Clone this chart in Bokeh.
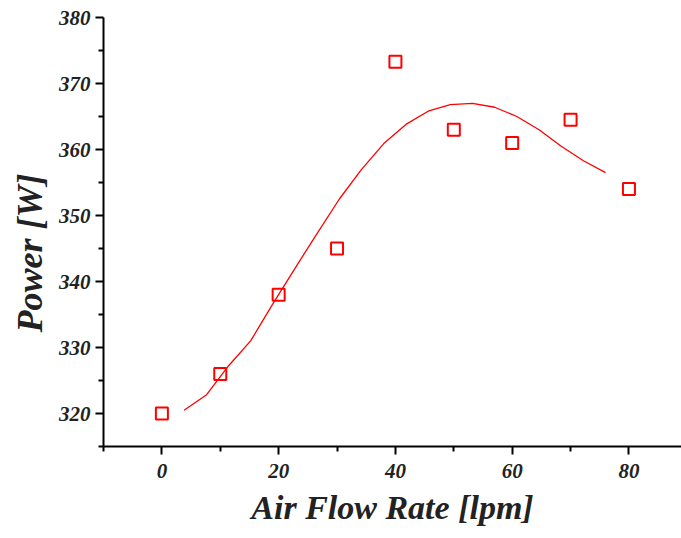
from bokeh.plotting import figure
from bokeh.models import FixedTicker, Range1d, Title
from bokeh.embed import file_html
from bokeh.resources import INLINE

# measured data
flow_rate = [0, 10, 20, 30, 40, 50, 60, 70, 80]
power = [320.0, 326.0, 338.0, 345.0, 373.3, 363.0, 361.0, 364.5, 354.0]

# fitted curve
fit_x = [3.8, 7.6, 11.4, 15.2, 19.0, 22.8, 26.6, 30.4, 34.2, 38.0,
         41.8, 45.6, 49.4, 53.2, 57.0, 60.8, 64.6, 68.4, 72.2, 76.0]
fit_y = [320.5, 322.8, 327.2, 331.0, 336.6, 342.0, 347.3, 352.5, 357.0, 360.9,
         363.8, 365.8, 366.8, 367.0, 366.4, 365.0, 363.0, 360.5, 358.3, 356.5]

x_major = [0, 20, 40, 60, 80]
x_minor = [-10, 10, 30, 50, 70]
y_major = [320, 330, 340, 350, 360, 370, 380]
y_minor = [315, 325, 335, 345, 355, 365, 375]

x_title = "Air Flow Rate [lpm]"
y_title = "Power [W]"

FONT = "Liberation Serif"

p = figure(width=681, height=538, output_backend="svg", toolbar_location=None,
           x_range=Range1d(-10, 89), y_range=Range1d(315, 380),
           min_border_left=103, min_border_right=0, min_border_top=17, min_border_bottom=92)
p.outline_line_color = None
p.grid.visible = False
p.background_fill_color = "white"
p.border_fill_color = "white"

p.line(fit_x, fit_y, line_color="#ff0000", line_width=1.3)
p.scatter(flow_rate, power, marker="square", size=12, fill_color=None,
          line_color="#ff0000", line_width=2)

for ax, maj, mnr in ((p.xaxis[0], x_major, x_minor), (p.yaxis[0], y_major, y_minor)):
    ax.ticker = FixedTicker(ticks=maj, minor_ticks=mnr)
    ax.axis_line_width = 2
    ax.axis_line_color = "black"
    ax.major_tick_line_width = 2
    ax.minor_tick_line_width = 2
    ax.major_tick_line_color = "black"
    ax.minor_tick_line_color = "black"
    ax.major_tick_out = 8
    ax.major_tick_in = 0
    ax.minor_tick_out = 5
    ax.minor_tick_in = 0
    ax.major_label_text_font = FONT
    ax.major_label_text_font_style = "bold italic"
    ax.major_label_text_font_size = "21px"
    ax.major_label_text_color = "#222222"

p.xaxis.major_label_standoff = 9
p.yaxis.major_label_standoff = 5

p.xaxis.axis_label = x_title
p.xaxis.axis_label_text_font = FONT
p.xaxis.axis_label_text_font_style = "bold italic"
p.xaxis.axis_label_text_font_size = "34px"
p.xaxis.axis_label_text_color = "#222222"
p.xaxis.axis_label_standoff = 8

yt = Title(text=y_title, align="left", offset=114, standoff=12,
           text_font=FONT, text_font_style="bold italic", text_font_size="36px",
           text_color="#222222")
p.add_layout(yt, "left")

open("out.html", "w").write(file_html(p, INLINE))
